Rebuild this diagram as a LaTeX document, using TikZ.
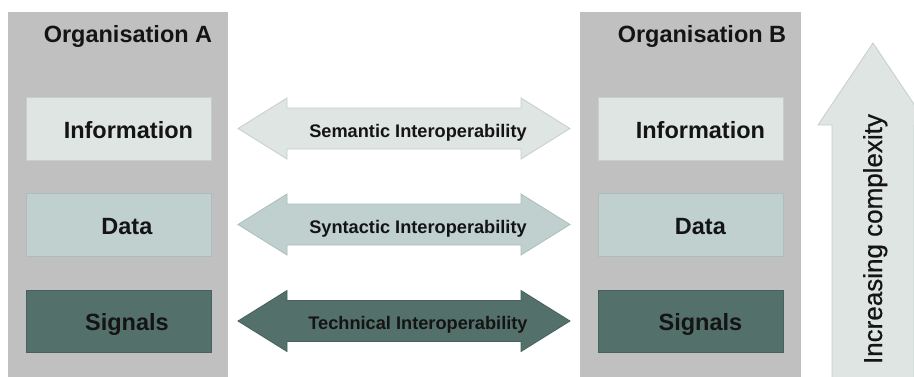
\documentclass[tikz,border=0pt]{standalone}
\usepackage{fontspec}
\setmainfont{Liberation Sans}
\definecolor{panelgray}{RGB}{192,192,192}
\definecolor{lightfill}{RGB}{222,229,227}
\definecolor{lightline}{RGB}{198,207,205}
\definecolor{midfill}{RGB}{191,208,207}
\definecolor{midline}{RGB}{172,189,187}
\definecolor{darkfill}{RGB}{83,113,106}
\definecolor{darkline}{RGB}{70,98,92}
\definecolor{inktext}{RGB}{20,20,20}
% double-headed horizontal arrow centred on height #1
\newcommand{\interarrow}[2]{%
  \draw[#2] (238,#1) -- (287,#1-30.5) -- (287,#1-20.5) -- (521,#1-20.5)
    -- (521,#1-30.5) -- (570,#1) -- (521,#1+30.5) -- (521,#1+20.5)
    -- (287,#1+20.5) -- (287,#1+30.5) -- cycle;}
\begin{document}
\begin{tikzpicture}[x=1pt,y=-1pt,
  panel/.style={fill=panelgray,draw=none,anchor=north west,inner sep=0pt,minimum width=220pt,minimum height=370pt},
  layerbox/.style={anchor=north west,inner sep=0pt,minimum width=185pt,line width=0.8pt},
  infobox/.style={layerbox,fill=lightfill,draw=lightline,minimum height=63pt},
  databox/.style={layerbox,fill=midfill,draw=midline,minimum height=63pt},
  sigbox/.style={layerbox,fill=darkfill,draw=darkline,minimum height=62pt},
  title/.style={anchor=base,font=\fontsize{23.5}{28}\selectfont\bfseries,text=inktext,inner sep=0pt},
  boxtext/.style={anchor=base,font=\fontsize{23.5}{28}\selectfont\bfseries,text=inktext,inner sep=0pt},
  arrowtext/.style={anchor=base,font=\fontsize{18.2}{22}\selectfont\bfseries,text=inktext,inner sep=0pt},
  semarrow/.style={fill=lightfill,draw=lightline,line width=0.8pt},
  synarrow/.style={fill=midfill,draw=midline,line width=0.8pt},
  techarrow/.style={fill=darkfill,draw=darkline,line width=0.8pt}]
\useasboundingbox (0,0) rectangle (914,376);
\clip (0,0) rectangle (914,376);
\fill[white] (0,0) rectangle (914,376);

% organisation panels
\node[panel] (orgA) at (8,12) {};
\node[panel,minimum width=221pt] (orgB) at (580,12) {};
\node[title] (titleA) at (128,42) {Organisation A};
\node[title] (titleB) at (702,42) {Organisation B};

% layers of organisation A
\node[infobox] (infoA) at (26,97) {};
\node[databox] (dataA) at (26,193) {};
\node[sigbox]  (sigA)  at (26,290) {};
\node[boxtext] (infoAt) at ([shift={(9.5,9.5)}]infoA.center) {Information};
\node[boxtext] (dataAt) at ([shift={(8,9.5)}]dataA.center) {Data};
\node[boxtext] (sigAt)  at ([shift={(8,9.5)}]sigA.center) {Signals};

% layers of organisation B
\node[infobox] (infoB) at (598,97) {};
\node[databox] (dataB) at (598,193) {};
\node[sigbox]  (sigB)  at (598,290) {};
\node[boxtext] (infoBt) at ([shift={(9.5,9.5)}]infoB.center) {Information};
\node[boxtext] (dataBt) at ([shift={(9.5,9.5)}]dataB.center) {Data};
\node[boxtext] (sigBt)  at ([shift={(9.5,9.5)}]sigB.center) {Signals};

% interoperability arrows
\interarrow{128.5}{semarrow}
\interarrow{224.5}{synarrow}
\interarrow{321}{techarrow}
\node[arrowtext] (sem)  at (418,137) {Semantic Interoperability};
\node[arrowtext] (syn)  at (418,233) {Syntactic Interoperability};
\node[arrowtext] (tech) at (418,329) {Technical Interoperability};

% complexity arrow
\draw[fill=lightfill,draw=lightline,line width=0.8pt]
  (832,382) -- (832,125) -- (818,125) -- (873,43) -- (928,125)
  -- (914,125) -- (914,382) -- cycle;
\node[rotate=90,anchor=base,font=\fontsize{26}{30}\selectfont,text=inktext,inner sep=0pt]
  (complexity) at (882,239) {\addfontfeature{FakeBold=0.6}Increasing complexity};
\end{tikzpicture}
\end{document}
